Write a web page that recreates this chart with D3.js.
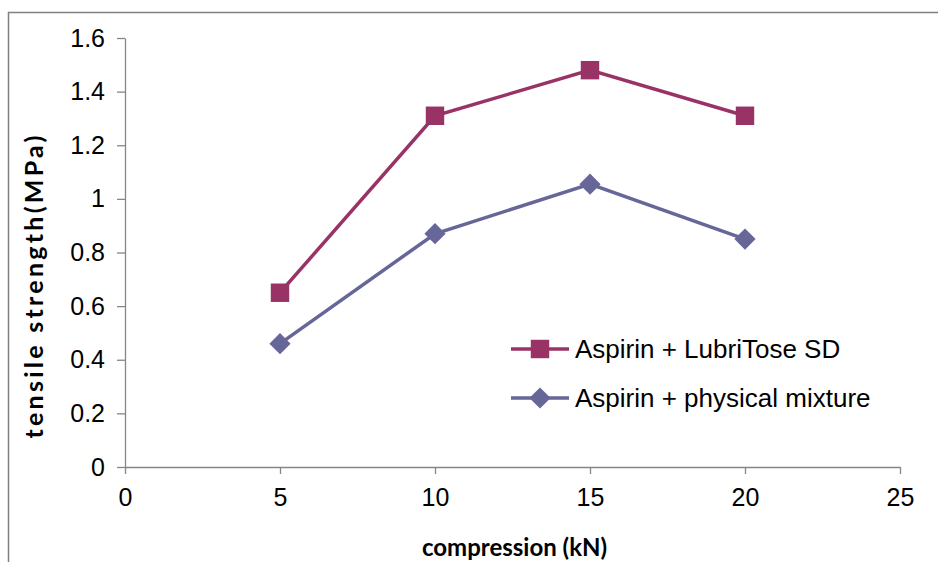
<!DOCTYPE html>
<html>
<head>
<meta charset="utf-8">
<script src="https://cdn.jsdelivr.net/npm/d3@7"></script>
<style>
  body { margin: 0; background: #fff; }
  svg { display: block; }
  .tick text { font-family: "Liberation Sans", Arial, sans-serif; font-size: 25px; fill: #000; }
</style>
</head>
<body>
<svg width="938" height="562"></svg>
<script>
// Data
var compression = [5, 10, 15, 20];
var lubriTose = [0.65, 1.31, 1.48, 1.31];
var physicalMix = [0.46, 0.87, 1.055, 0.85];
var seriesNames = ['Aspirin + LubriTose SD', 'Aspirin + physical mixture'];
var xTicks = [0, 5, 10, 15, 20, 25];
var yTicks = [0, 0.2, 0.4, 0.6, 0.8, 1, 1.2, 1.4, 1.6];

var colors = ['#993366', '#666699'];
var axisColor = '#868686';

var margin = {top: 38, right: 38, bottom: 95, left: 125};
var width = 938 - margin.left - margin.right;
var height = 562 - margin.top - margin.bottom;

var svg = d3.select('svg');

// outer frame (only top and left edges show)
svg.append('path')
  .attr('d', 'M8.5,562V12.5H938')
  .attr('fill', 'none')
  .attr('stroke', '#808080')
  .attr('stroke-width', 1.5);

var x = d3.scaleLinear().domain([0, 25]).range([0, width]);
var y = d3.scaleLinear().domain([0, 1.6]).range([height, 0]);

var chart = svg.append('g')
  .attr('transform', 'translate(' + margin.left + ',' + margin.top + ')');

var yAxis = d3.axisLeft(y).tickValues(yTicks).tickFormat(d3.format('')).tickSize(8).tickSizeOuter(0).tickPadding(12);
var xAxis = d3.axisBottom(x).tickValues(xTicks).tickSize(7).tickSizeOuter(0).tickPadding(14);

var gy = chart.append('g').call(yAxis);
var gx = chart.append('g').attr('transform', 'translate(0,' + height + ')').call(xAxis);
[gx, gy].forEach(g => {
  g.selectAll('path, line').attr('stroke', axisColor).attr('stroke-width', 1.3);
});

// axis titles
chart.append('text')
  .text('compression (kN)')
  .attr('x', width / 2 + 2)
  .attr('y', height + 89)
  .attr('text-anchor', 'middle')
  .style('font-family', 'Lato, sans-serif')
  .style('font-weight', 'bold')
  .style('font-size', '24px');

svg.append('text')
  .text('tensile strength(MPa)')
  .attr('transform', 'translate(43,287) rotate(-90)')
  .attr('text-anchor', 'middle')
  .attr('textLength', 303)
  .attr('lengthAdjust', 'spacing')
  .style('font-family', 'Lato, sans-serif')
  .style('font-weight', 'bold')
  .style('font-size', '25px');

// lines and markers
var series = [lubriTose, physicalMix];
var line = d3.line().x((d, i) => x(compression[i])).y(d => y(d));
var markerSquare = d3.symbol().type(d3.symbolSquare).size(340);
var markerDiamond = d3.symbol().type(d3.symbolSquare).size(225);

series.forEach((vals, s) => {
  chart.append('path')
    .datum(vals)
    .attr('fill', 'none')
    .attr('stroke', colors[s])
    .attr('stroke-width', 3.5)
    .attr('d', line);

  chart.selectAll()
    .data(vals).enter()
    .append('path')
    .attr('d', s == 0 ? markerSquare : markerDiamond)
    .attr('fill', colors[s])
    .attr('transform', (d, i) => 'translate(' + x(compression[i]) + ',' + y(d) + ')' + (s == 1 ? ' rotate(45)' : ''));
});

// legend
var legend = svg.append('g').attr('transform', 'translate(511,349)');
seriesNames.forEach((name, s) => {
  var row = legend.append('g').attr('transform', 'translate(0,' + s * 49 + ')');
  row.append('line')
    .attr('x1', 0).attr('x2', 58)
    .attr('stroke', colors[s])
    .attr('stroke-width', 3.5);
  row.append('path')
    .attr('d', s == 0 ? markerSquare : markerDiamond)
    .attr('fill', colors[s])
    .attr('transform', 'translate(29,0)' + (s == 1 ? ' rotate(45)' : ''));
  row.append('text')
    .text(name)
    .attr('x', 64)
    .attr('y', 9)
    .style('font-family', '"Liberation Sans", Arial, sans-serif')
    .style('font-size', '26px');
});
</script>
</body>
</html>
